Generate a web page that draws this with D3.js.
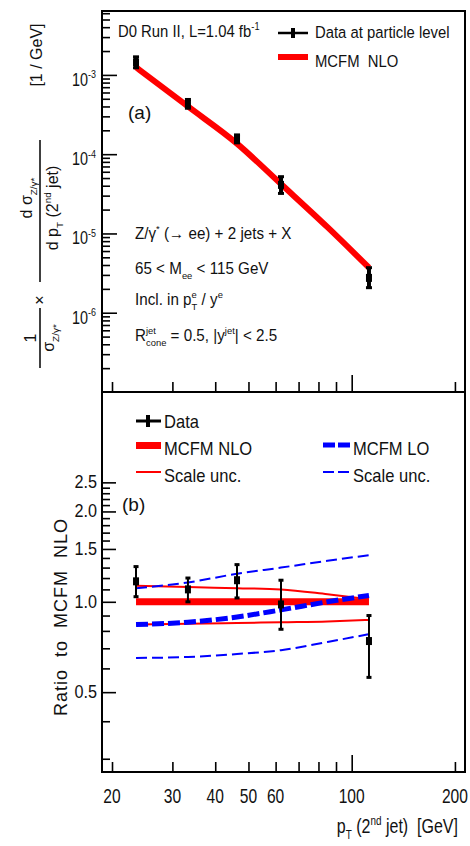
<!DOCTYPE html>
<html>
<head>
<meta charset="utf-8">
<script src="https://cdn.jsdelivr.net/npm/d3@7"></script>
<style>
body { margin: 0; background: #fff; }
svg text { font-family: "Liberation Sans", Arial, Helvetica, sans-serif; fill: #111; white-space: pre; }
</style>
</head>
<body>
<div id="chart"></div>
<script>
// values
const ptData = [23.5, 33.3, 46.3, 62.2, 112.3]
const xsecData = [1.44e-3, 4.3e-4, 1.56e-4, 4.1e-5, 2.75e-6]
const xsecLo = [1.23e-3, 3.8e-4, 1.39e-4, 3.2e-5, 2.07e-6]
const xsecHi = [1.69e-3, 4.9e-4, 1.75e-4, 5.2e-5, 3.7e-6]
const ratioData = [1.17, 1.10, 1.18, 0.98, 0.74]
const ratioLo = [1.04, 1.00, 1.03, 0.81, 0.56]
const ratioHi = [1.31, 1.20, 1.33, 1.18, 0.90]

const ptTheory = [23.5, 33.3, 46.3, 62.2, 85, 112.3]
const xsecNLO = [1.25e-3, 4.0e-4, 1.36e-4, 4.2e-5, 1.2e-5, 3.7e-6]
const ratioNLO = [1.0, 1.0, 1.0, 1.0, 1.0, 1.0]
const ratioNLOUp = [1.13, 1.12, 1.11, 1.10, 1.06, 1.02]
const ratioNLODown = [0.84, 0.845, 0.85, 0.855, 0.86, 0.87]
const ratioLO = [0.84, 0.855, 0.89, 0.94, 1.00, 1.05]
const ratioLOUp = [1.11, 1.16, 1.24, 1.30, 1.37, 1.43]
const ratioLODown = [0.65, 0.655, 0.67, 0.69, 0.735, 0.78]

const xMinorTicks = [20, 30, 40, 50, 60, 70, 80, 90, 200]
const xMajorTicks = [100]
const xTickLabels = [20, 30, 40, 50, 60, 100, 200]
const topMajorTicks = [1e-3, 1e-4, 1e-5, 1e-6]
const topTickLabels = ['-3', '-4', '-5', '-6']
const ratioMajorTicks = [0.5, 1.0, 1.5, 2.0, 2.5]
const ratioMinorTicks = [0.3, 0.4, 0.6, 0.7, 0.8, 0.9, 1.1, 1.2, 1.3, 1.4, 1.6, 1.7, 1.8, 1.9, 2.1, 2.2, 2.3, 2.4]

// frame
const L = 102, R = 465, T = 11, MID = 392, B = 772

const svg = d3.select('#chart').append('svg')
    .attr('width', 470)
    .attr('height', 846)
    .style('display', 'block')

const x = d3.scaleLog().domain([18.7, 214]).range([L, R])
const yTop = d3.scaleLog().domain([1e-7, 6.4e-3]).range([MID, T])
const yRat = d3.scaleLog().domain([0.271, 5.0]).range([B, MID])

// text with sub/superscripts, built piece by piece
function rich(parent, parts, size, anchor, px, py, sx) {
    sx = sx || 1
    const g = parent.append('g')
    let cx = 0
    parts.forEach(p => {
        if (p.t !== undefined) {
            const t = g.append('text').attr('x', cx).attr('y', 0).style('font-size', size + 'px').text(p.t)
            cx += t.node().getComputedTextLength()
        } else {
            let w = 0
            if (p.sup) {
                const t = g.append('text').attr('x', cx).attr('y', -size * 0.42)
                    .style('font-size', size * 0.62 + 'px').text(p.sup)
                w = Math.max(w, t.node().getComputedTextLength())
            }
            if (p.sub) {
                const t = g.append('text').attr('x', cx).attr('y', size * 0.3)
                    .style('font-size', size * 0.62 + 'px').text(p.sub)
                w = Math.max(w, t.node().getComputedTextLength())
            }
            cx += w
        }
    })
    const dx = anchor === 'middle' ? -cx / 2 : anchor === 'end' ? -cx : 0
    g.attr('transform', 'translate(' + (px + dx * sx) + ',' + py + ') scale(' + sx + ',1)')
    return g
}

// ---- theory curves ----
const topLine = d3.line()
    .x(d => x(d[0]))
    .y(d => yTop(d[1]))
    .curve(d3.curveMonotoneX)
const ratLine = d3.line()
    .x(d => x(d[0]))
    .y(d => yRat(d[1]))
    .curve(d3.curveMonotoneX)

svg.append('path')
    .datum(d3.zip(ptTheory, xsecNLO))
    .attr('d', topLine)
    .attr('fill', 'none')
    .attr('stroke', '#ff0000')
    .attr('stroke-width', 6)

const ratioCurves = [
    { vals: ratioNLO, color: '#ff0000', width: 7, dash: null },
    { vals: ratioNLOUp, color: '#ff0000', width: 2, dash: null },
    { vals: ratioNLODown, color: '#ff0000', width: 2, dash: null },
    { vals: ratioLOUp, color: '#0000ff', width: 2, dash: '11,5' },
    { vals: ratioLODown, color: '#0000ff', width: 2, dash: '11,5' },
    { vals: ratioLO, color: '#0000ff', width: 5, dash: '12,4' }
]
svg.selectAll('path.ratio')
    .data(ratioCurves)
    .enter()
    .append('path')
    .attr('class', 'ratio')
    .attr('d', d => ratLine(d3.zip(ptTheory, d.vals)))
    .attr('fill', 'none')
    .attr('stroke', d => d.color)
    .attr('stroke-width', d => d.width)
    .attr('stroke-dasharray', d => d.dash)

// ---- data points ----
function drawPoints(rows, ys, barW, capW) {
    const g = svg.append('g')
    const pts = g.selectAll('g').data(rows).enter().append('g')
    pts.append('line')
        .attr('x1', d => x(d.pt)).attr('x2', d => x(d.pt))
        .attr('y1', d => ys(d.hi)).attr('y2', d => ys(d.lo))
        .attr('stroke', '#000').attr('stroke-width', barW)
    pts.append('rect')
        .attr('x', d => x(d.pt) - capW / 2).attr('y', d => ys(d.hi) - 1.5)
        .attr('width', capW).attr('height', 3).attr('fill', '#000')
    pts.append('rect')
        .attr('x', d => x(d.pt) - capW / 2).attr('y', d => ys(d.lo) - 1.5)
        .attr('width', capW).attr('height', 3).attr('fill', '#000')
    pts.append('rect')
        .attr('x', d => x(d.pt) - 3).attr('y', d => ys(d.v) - 4)
        .attr('width', 6).attr('height', 8).attr('fill', '#000')
}
drawPoints(ptData.map((pt, i) => ({ pt, v: xsecData[i], lo: xsecLo[i], hi: xsecHi[i] })), yTop, 4, 6)
drawPoints(ptData.map((pt, i) => ({ pt, v: ratioData[i], lo: ratioLo[i], hi: ratioHi[i] })), yRat, 2, 5)

// ---- frames ----
svg.append('rect').attr('x', L).attr('y', T).attr('width', R - L).attr('height', MID - T)
    .attr('fill', 'none').attr('stroke', '#000').attr('stroke-width', 2)
svg.append('rect').attr('x', L).attr('y', MID).attr('width', R - L).attr('height', B - MID)
    .attr('fill', 'none').attr('stroke', '#000').attr('stroke-width', 2)

// ---- axes (ticks point inwards) ----
function tickAxis(axis, tx, ty, size) {
    svg.append('g')
        .attr('transform', 'translate(' + tx + ',' + ty + ')')
        .call(axis.tickSize(size).tickFormat(''))
        .call(g => g.select('.domain').remove())
        .call(g => g.selectAll('line').attr('stroke', '#000').attr('stroke-width', 1.6))
}
;[MID, B].forEach(yy => {
    tickAxis(d3.axisBottom(x).tickValues(xMinorTicks), 0, yy, -10)
    tickAxis(d3.axisBottom(x).tickValues(xMajorTicks), 0, yy, -17)
})
const topMinor = yTop.ticks().filter(v => Math.abs(Math.log10(v) - Math.round(Math.log10(v))) > 1e-6)
tickAxis(d3.axisLeft(yTop).tickValues(topMinor), L, 0, -8)
tickAxis(d3.axisLeft(yTop).tickValues(topMajorTicks), L, 0, -15)
tickAxis(d3.axisLeft(yRat).tickValues(ratioMinorTicks), L, 0, -8)
tickAxis(d3.axisLeft(yRat).tickValues(ratioMajorTicks), L, 0, -14)

// tick labels
topMajorTicks.forEach((v, i) => {
    rich(svg, [{ t: '10' }, { sup: topTickLabels[i] }], 18, 'end', 96, yTop(v) + 11, 0.8)
})
svg.selectAll('text.rlab')
    .data(ratioMajorTicks)
    .enter()
    .append('text')
    .attr('class', 'rlab')
    .attr('transform', d => 'translate(97,' + (yRat(d) + 6) + ') scale(0.9,1)')
    .attr('text-anchor', 'end')
    .style('font-size', '18px')
    .text(d => d3.format('.1f')(d))
svg.selectAll('text.xlab')
    .data(xTickLabels)
    .enter()
    .append('text')
    .attr('class', 'xlab')
    .attr('transform', d => 'translate(' + x(d) + ',803) scale(0.78,1)')
    .attr('text-anchor', 'middle')
    .style('font-size', '20px')
    .text(d => d)

// axis titles
rich(svg, [{ t: 'p' }, { sub: 'T' }, { t: ' (2' }, { sup: 'nd' }, { t: ' jet)  [GeV]' }], 20, 'end', 458, 833, 0.8)

svg.append('text')
    .attr('transform', 'translate(67,617) rotate(-90)')
    .attr('text-anchor', 'middle')
    .style('font-size', '18px')
    .style('letter-spacing', '1px')
    .text('Ratio  to  MCFM  NLO')

const yt = svg.append('g').attr('transform', 'translate(40,368) rotate(-90)')
yt.append('line').attr('x1', 0).attr('x2', 60).attr('y1', 0).attr('y2', 0).attr('stroke', '#000').attr('stroke-width', 1.5)
yt.append('line').attr('x1', 86).attr('x2', 228).attr('y1', 0).attr('y2', 0).attr('stroke', '#000').attr('stroke-width', 1.5)
yt.append('text').attr('x', 30).attr('y', -4).attr('text-anchor', 'middle').style('font-size', '16px').text('1')
rich(yt, [{ t: 'σ' }, { sub: 'Z/γ*' }], 16, 'middle', 30, 14)
yt.append('text').attr('x', 68).attr('y', 5).attr('text-anchor', 'middle').style('font-size', '16px').text('×')
rich(yt, [{ t: 'd σ' }, { sub: 'Z/γ*' }], 16, 'middle', 170, -8)
rich(yt, [{ t: 'd p' }, { sub: 'T' }, { t: ' (2' }, { sup: 'nd' }, { t: ' jet)' }], 16, 'middle', 160, 18)
rich(yt, [{ t: '[1 / GeV]' }], 16, 'middle', 313, 2)

// ---- top panel labels ----
rich(svg, [{ t: 'D0 Run II, L=1.04 fb' }, { sup: '-1' }], 16.5, 'start', 118, 37, 0.9)
svg.append('line').attr('x1', 278).attr('x2', 308).attr('y1', 33).attr('y2', 33).attr('stroke', '#000').attr('stroke-width', 2.5)
svg.append('rect').attr('x', 291).attr('y', 28).attr('width', 4).attr('height', 10).attr('fill', '#000')
rich(svg, [{ t: 'Data at particle level' }], 16.5, 'start', 315, 38, 0.9)
svg.append('rect').attr('x', 278).attr('y', 54).attr('width', 30).attr('height', 6).attr('fill', '#ff0000')
rich(svg, [{ t: 'MCFM  NLO' }], 16.5, 'start', 315, 67, 0.9)

svg.append('text').attr('x', 128).attr('y', 119).style('font-size', '19px').text('(a)')

rich(svg, [{ t: 'Z/γ' }, { sup: '*' }, { t: ' (→ ee) + 2 jets + X' }], 16, 'start', 135, 239, 0.95)
rich(svg, [{ t: '65 < M' }, { sub: 'ee' }, { t: ' < 115 GeV' }], 16, 'start', 135, 274, 0.95)
rich(svg, [{ t: 'Incl. in p' }, { sub: 'T', sup: 'e' }, { t: ' / y' }, { sup: 'e' }], 16, 'start', 135, 305, 0.95)
rich(svg, [{ t: 'R' }, { sub: 'cone', sup: 'jet' }, { t: ' = 0.5, |y' }, { sup: 'jet' }, { t: '| < 2.5' }], 16, 'start', 135, 341, 0.95)

// ---- ratio panel legend ----
svg.append('line').attr('x1', 136).attr('x2', 161).attr('y1', 421).attr('y2', 421).attr('stroke', '#000').attr('stroke-width', 3)
svg.append('rect').attr('x', 146).attr('y', 415).attr('width', 4).attr('height', 12).attr('fill', '#000')
rich(svg, [{ t: 'Data' }], 18, 'start', 164, 428, 0.92)
svg.append('rect').attr('x', 136).attr('y', 442).attr('width', 25).attr('height', 7).attr('fill', '#ff0000')
rich(svg, [{ t: 'MCFM NLO' }], 18, 'start', 164, 455, 0.92)
svg.append('line').attr('x1', 136).attr('x2', 161).attr('y1', 472).attr('y2', 472).attr('stroke', '#ff0000').attr('stroke-width', 2)
rich(svg, [{ t: 'Scale unc.' }], 18, 'start', 164, 482, 0.92)
svg.append('line').attr('x1', 323).attr('x2', 350).attr('y1', 445).attr('y2', 445).attr('stroke', '#0000ff').attr('stroke-width', 5).attr('stroke-dasharray', '12,3')
rich(svg, [{ t: 'MCFM LO' }], 18, 'start', 353, 455, 0.92)
svg.append('line').attr('x1', 323).attr('x2', 350).attr('y1', 472).attr('y2', 472).attr('stroke', '#0000ff').attr('stroke-width', 2).attr('stroke-dasharray', '11,4')
rich(svg, [{ t: 'Scale unc.' }], 18, 'start', 353, 482, 0.92)

svg.append('text').attr('x', 122).attr('y', 511).style('font-size', '19px').text('(b)')
</script>
</body>
</html>
